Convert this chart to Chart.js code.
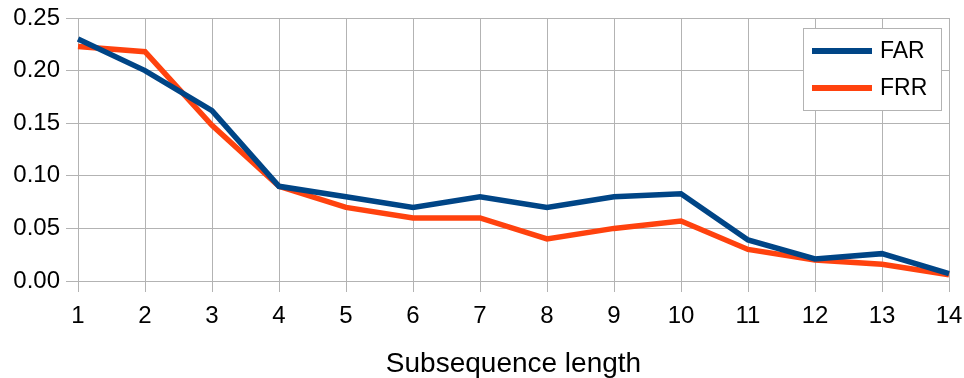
<!DOCTYPE html>
<html>
<head>
<meta charset="utf-8">
<script src="https://cdn.jsdelivr.net/npm/chart.js@4"></script>
<style>
  html, body { margin: 0; padding: 0; background: #fff; }
  #wrap { width: 964px; height: 378px; }
</style>
</head>
<body>
<div id="wrap"><canvas id="c" width="964" height="378"></canvas></div>
<script>
// Subsequence lengths (x categories)
const lengths = [1, 2, 3, 4, 5, 6, 7, 8, 9, 10, 11, 12, 13, 14];
// False acceptance rate per subsequence length
const far = [0.230, 0.200, 0.162, 0.090, 0.080, 0.070, 0.080, 0.070, 0.080, 0.083, 0.039, 0.021, 0.026, 0.007];
// False rejection rate per subsequence length
const frr = [0.223, 0.218, 0.148, 0.090, 0.070, 0.060, 0.060, 0.040, 0.050, 0.057, 0.030, 0.020, 0.016, 0.006];
// Y axis ticks
const yTicks = [0, 0.05, 0.10, 0.15, 0.20, 0.25];
const seriesNames = ['FAR', 'FRR'];
const xTitle = 'Subsequence length';

const FONT = '"Liberation Sans", Arial, sans-serif';
const GRID = '#b3b3b3';

// Boxed legend drawn inside the top-right corner of the plot area
const boxedLegend = {
  id: 'boxedLegend',
  afterDraw(chart) {
    const { ctx, chartArea } = chart;
    const bx = chartArea.right - 146, by = chartArea.top + 10;
    const bw = 138, bh = 82;
    ctx.save();
    ctx.fillStyle = '#fff';
    ctx.fillRect(bx, by, bw, bh);
    ctx.strokeStyle = GRID;
    ctx.lineWidth = 1;
    ctx.strokeRect(bx + 0.5, by + 0.5, bw, bh);
    chart.data.datasets.forEach((ds, i) => {
      const y = by + 23 + i * 37;
      ctx.strokeStyle = ds.borderColor;
      ctx.lineWidth = 6;
      ctx.beginPath();
      ctx.moveTo(bx + 9, y);
      ctx.lineTo(bx + 69, y);
      ctx.stroke();
      ctx.fillStyle = '#000';
      ctx.font = '23px ' + FONT;
      ctx.textBaseline = 'middle';
      ctx.textAlign = 'left';
      ctx.fillText(ds.label, bx + 77, y + 1);
    });
    ctx.restore();
  }
};

new Chart(document.getElementById('c'), {
  type: 'line',
  data: {
    labels: lengths,
    datasets: [
      { label: seriesNames[0], data: far, borderColor: '#004586', backgroundColor: '#004586',
        borderWidth: 5.5, pointRadius: 0, tension: 0, borderJoinStyle: 'miter' },
      { label: seriesNames[1], data: frr, borderColor: '#ff420e', backgroundColor: '#ff420e',
        borderWidth: 5.5, pointRadius: 0, tension: 0, borderJoinStyle: 'miter' }
    ]
  },
  options: {
    responsive: false,
    animation: false,
    devicePixelRatio: 1,
    layout: { padding: { top: 18, right: 15, bottom: 0, left: 0 } },
    plugins: { legend: { display: false }, tooltip: { enabled: false } },
    scales: {
      x: {
        type: 'category',
        offset: false,
        grid: { color: GRID, lineWidth: 1, tickLength: 11, drawTicks: true },
        border: { color: GRID },
        ticks: { color: '#000', font: { family: FONT, size: 24 }, padding: 10, maxRotation: 0, autoSkip: false },
        title: { display: true, text: xTitle, color: '#000',
                 font: { family: FONT, size: 28, lineHeight: 1.0 }, padding: { top: 0, bottom: 0 } },
        afterFit(scale) { scale.height = 97; scale.paddingLeft = 0; scale.paddingRight = 15; }
      },
      y: {
        min: 0, max: 0.25,
        grid: { color: GRID, lineWidth: 1, tickLength: 12, drawTicks: true },
        border: { color: GRID },
        afterBuildTicks(scale) { scale.ticks = yTicks.map(v => ({ value: v })); },
        ticks: { color: '#000', font: { family: FONT, size: 24 }, padding: 6,
                 callback: v => Number(v).toFixed(2) },
        afterFit(scale) { scale.width = 78; scale.paddingTop = 0; scale.paddingBottom = 0; }
      }
    }
  },
  plugins: [boxedLegend]
});
</script>
</body>
</html>
